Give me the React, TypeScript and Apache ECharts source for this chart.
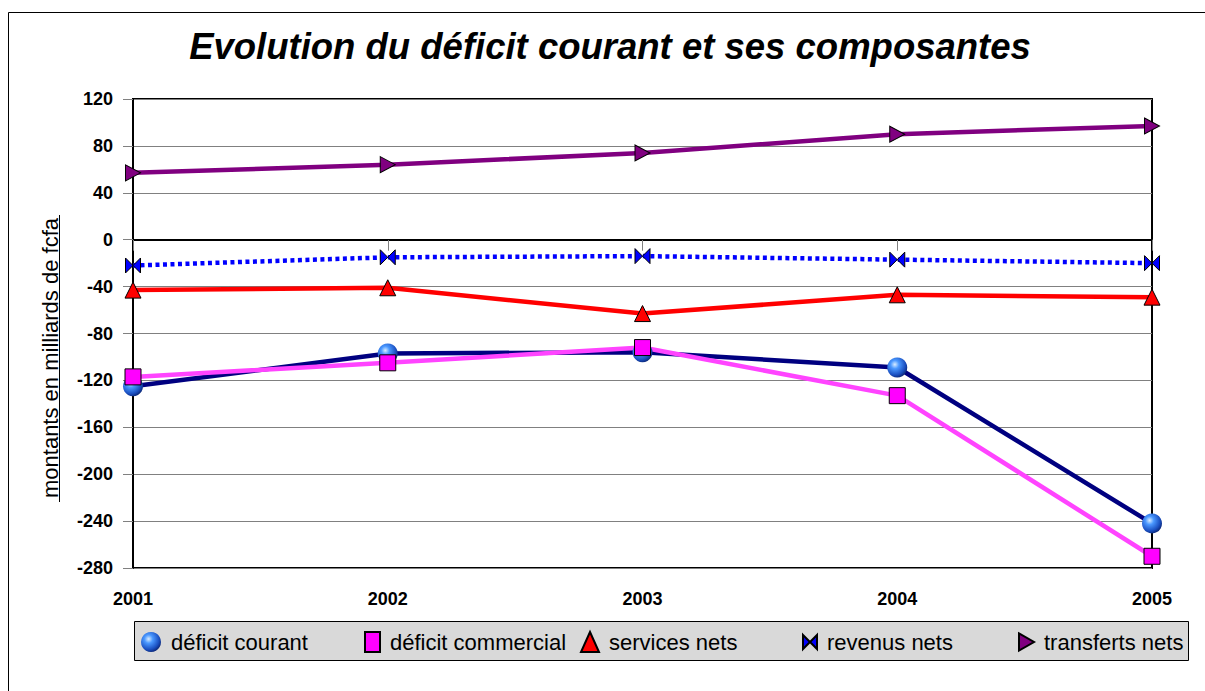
import React, { useEffect, useRef } from "react";
import * as echarts from "echarts";

const years = ["2001", "2002", "2003", "2004", "2005"];
const deficitCourant = [-125, -97, -96, -109, -242];
const deficitCommercial = [-117, -105, -92, -133, -270];
const servicesNets = [-43, -41, -63, -47, -49];
const revenusNets = [-22, -15, -14, -17, -20];
const transfertsNets = [57, 64, 74, 90, 97];

const seriesNames = ["déficit courant", "déficit commercial", "services nets", "revenus nets", "transferts nets"];
const titleText = "Evolution du déficit courant et ses composantes";
const yAxisName = "montants en milliards de fcfa";

const FONT = '"Liberation Sans", Arial, sans-serif';
const BOWTIE = "path://M0,0L8,8L0,16ZM16,0L8,8L16,16Z";
const RIGHT_TRI = "path://M0,0L14,8L0,16Z";

const sphere = {
  type: "radial",
  x: 0.38,
  y: 0.35,
  r: 0.7,
  colorStops: [
    { offset: 0, color: "#d8ecff" },
    { offset: 0.3, color: "#4a98ff" },
    { offset: 0.75, color: "#1a4fc0" },
    { offset: 1, color: "#0a2370" },
  ],
};

export default function App() {
  const ref = useRef<HTMLDivElement>(null);
  useEffect(() => {
    if (!ref.current) return;
    const chart = echarts.init(ref.current, undefined, { renderer: "svg" });

    const legend = (name: string, left: number, icon: string, w: number, pad: number) => ({
      left,
      top: 631,
      padding: 0,
      itemWidth: w,
      itemHeight: 20,
      selectedMode: false,
      data: [{ name, icon }],
      textStyle: { fontSize: 22, fontFamily: FONT, color: "#000", padding: [0, 0, 0, pad] },
    });

    chart.setOption({
      animation: false,
      backgroundColor: "#fff",
      textStyle: { fontFamily: FONT },
      grid: {
        left: 133,
        right: 53,
        top: 99,
        bottom: 123,
        show: true,
        borderColor: "#000",
        borderWidth: 2,
        backgroundColor: "#fff",
      },
      legend: [
        legend(seriesNames[0], 141, "circle", 22, 4),
        legend(seriesNames[1], 364, "rect", 15, 5),
        legend(seriesNames[2], 580, "triangle", 18, 5),
        legend(seriesNames[3], 802, BOWTIE, 14, 5),
        legend(seriesNames[4], 1018, RIGHT_TRI, 15, 5),
      ],
      xAxis: {
        type: "category",
        data: years,
        boundaryGap: false,
        axisLine: { lineStyle: { color: "#000", width: 2 } },
        axisTick: { show: true, length: 11, lineStyle: { color: "#808080", width: 1 } },
        axisLabel: { fontSize: 18, fontWeight: "bold", color: "#000", fontFamily: FONT, margin: 22 },
        splitLine: { show: false },
      },
      yAxis: {
        type: "value",
        min: -280,
        max: 120,
        interval: 40,
        axisLine: { show: true, lineStyle: { color: "#000", width: 2 } },
        axisTick: { show: true, length: 10, lineStyle: { color: "#808080", width: 1 } },
        axisLabel: { fontSize: 18, fontWeight: "bold", color: "#000", fontFamily: FONT, margin: 20 },
        splitLine: { show: true, lineStyle: { color: "#808080", width: 1 } },
      },
      series: [
        {
          name: seriesNames[0],
          type: "line",
          data: deficitCourant,
          symbol: "circle",
          symbolSize: 20,
          lineStyle: { color: "#000080", width: 4.5 },
          itemStyle: { color: sphere, borderWidth: 0 },
          markLine: {
            silent: true,
            symbol: "none",
            label: { show: false },
            lineStyle: { color: "#000", width: 1, type: "solid" },
            data: [{ yAxis: 0 }],
          },
        },
        {
          name: seriesNames[1],
          type: "line",
          data: deficitCommercial,
          symbol: "rect",
          symbolSize: 16,
          lineStyle: { color: "#ff44ff", width: 4.5 },
          itemStyle: { color: "#ff00ff", borderColor: "#000", borderWidth: 1 },
        },
        {
          name: seriesNames[2],
          type: "line",
          data: servicesNets,
          symbol: "triangle",
          symbolSize: 16,
          lineStyle: { color: "#ff0000", width: 4.5 },
          itemStyle: { color: "#ff0000", borderColor: "#000", borderWidth: 1 },
        },
        {
          name: seriesNames[3],
          type: "line",
          data: revenusNets,
          symbol: BOWTIE,
          symbolSize: [15, 15],
          lineStyle: { color: "#0000ff", width: 4.5, type: [4, 3.5], cap: "butt" },
          itemStyle: { color: "#0000ff", borderColor: "#000", borderWidth: 1 },
        },
        {
          name: seriesNames[4],
          type: "line",
          data: transfertsNets,
          symbol: RIGHT_TRI,
          symbolSize: [15, 16],
          lineStyle: { color: "#800080", width: 4.5 },
          itemStyle: { color: "#800080", borderColor: "#000", borderWidth: 1 },
        },
      ],
      graphic: [
        {
          type: "rect",
          z: -10,
          silent: true,
          shape: { x: 8.5, y: 12.5, width: 1400, height: 900 },
          style: { fill: "none", stroke: "#000", lineWidth: 1 },
        },
        {
          type: "rect",
          z: 0,
          silent: true,
          shape: { x: 134.5, y: 621.5, width: 1054, height: 39 },
          style: { fill: "#d9d9d9", stroke: "#000", lineWidth: 1 },
        },
        {
          type: "text",
          x: 610,
          y: 46,
          silent: true,
          style: {
            text: titleText,
            font: `italic bold 36.5px ${FONT}`,
            fill: "#000",
            align: "center",
            verticalAlign: "middle",
          },
        },
        {
          type: "text",
          x: 50,
          y: 358,
          rotation: Math.PI / 2,
          silent: true,
          style: {
            text: yAxisName,
            font: `22px ${FONT}`,
            fill: "#000",
            align: "center",
            verticalAlign: "middle",
          },
        },
        {
          type: "line",
          silent: true,
          shape: { x1: 59.5, y1: 215, x2: 59.5, y2: 502 },
          style: { stroke: "#000", lineWidth: 1 },
        },
      ],
    });
    return () => chart.dispose();
  }, []);
  return (
    <div
      ref={ref}
      style={{ position: "fixed", left: 0, top: 0, width: 1205, height: 691 }}
    />
  );
}
